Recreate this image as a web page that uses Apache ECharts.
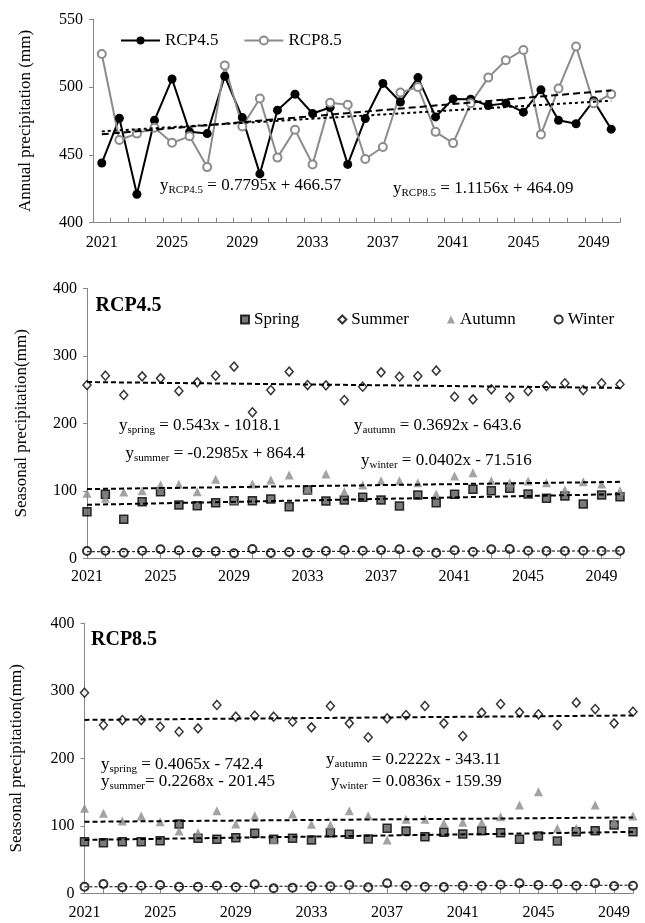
<!DOCTYPE html>
<html>
<head>
<meta charset="utf-8">
<script src="https://cdn.jsdelivr.net/npm/echarts@6/dist/echarts.min.js"></script>
<style>
html,body{margin:0;padding:0;background:#fff;}
#c{width:645px;height:923px;}
</style>
</head>
<body>
<div id="c"></div>
<script>
// ---------- data ----------
const years = ['2021','2022','2023','2024','2025','2026','2027','2028','2029','2030',
               '2031','2032','2033','2034','2035','2036','2037','2038','2039','2040',
               '2041','2042','2043','2044','2045','2046','2047','2048','2049','2050'];

// Annual precipitation (mm)
const annual45 = [444, 477, 421, 475.5, 506, 467, 465.7, 508, 477.5, 436,
                  483, 494.8, 480.5, 485, 443, 476.8, 502.7, 489, 507, 478,
                  491.3, 491, 486.4, 488, 481.5, 498, 475.5, 473, 490, 469];
const annual85 = [524.4, 461, 465.7, 470, 459, 463.7, 441, 516, 471, 491.6,
                  448, 468.6, 443, 488.4, 487, 447, 455.8, 496, 500, 467,
                  458.7, 488, 507, 519.8, 527.4, 465, 499, 530, 488, 494.8];
const trendAnnual45 = [467.35, 489.96];
const trendAnnual85 = [465.21, 497.56];

// Seasonal precipitation RCP4.5 (mm)
const spring45 = [69, 94.8, 57.8, 83.9, 98.7, 79, 78, 82.4, 85.4, 85.4,
                  87.9, 76.5, 101.2, 84.9, 86.4, 90.4, 86.4, 77.5, 93.8, 82.4,
                  94.8, 102.2, 100.2, 103.7, 95.3, 88.9, 92.3, 80.4, 93.8, 91.3];
const summer45 = [256.7, 270.5, 242, 269.6, 266.6, 247.8, 260.7, 270.5, 283.9, 216.3,
                  249.3, 276.5, 256.7, 256.2, 234.5, 254.2, 275.5, 269, 270, 278,
                  239.4, 235.5, 250.4, 238.5, 247.8, 255.3, 259.3, 249.3, 259.3, 257.8];
const autumn45 = [96.3, 88.9, 98.2, 100.2, 108.6, 109.6, 98.7, 117, 86.4, 110,
                  116, 123.4, 102.2, 124.9, 98.7, 108.6, 115, 115, 112, 95.3,
                  121.9, 126.8, 115, 112, 114.5, 112, 101.2, 113.5, 110, 100.2];
const winter45 = [10.8, 11.3, 8.3, 11.3, 13.3, 11.8, 8.8, 10.3, 7.4, 13.8,
                  7.9, 9.3, 8.3, 10.8, 12.3, 11.3, 12.3, 13.3, 9.8, 8.3,
                  11.8, 9.8, 13.3, 13.8, 11.3, 10.8, 10.8, 11.3, 10.8, 11.3];
const trendSpring45 = [79.30, 95.05];
const trendSummer45 = [261.13, 252.47];
const trendAutumn45 = [102.55, 113.26];
const trendWinter45 = [9.73, 10.89];

// Seasonal precipitation RCP8.5 (mm)
const spring85 = [76.5, 75, 76.5, 76.5, 78, 102.7, 81.5, 80, 82.4, 88.9,
                  80, 81.5, 79, 89.8, 87.4, 80.4, 96.3, 92.3, 83.9, 90.4,
                  87.9, 92.8, 89.8, 80, 84.9, 77.5, 91.3, 92.8, 101.2, 91.3];
const summer85 = [297.2, 249.3, 256.7, 256.7, 246.8, 239.4, 244.4, 279, 261.6, 263.1,
                  261.6, 254.2, 245.9, 277.5, 251.8, 231.1, 259.3, 264.1, 277.5, 251.8,
                  233, 267.6, 280.4, 268.1, 265.2, 249.3, 282.4, 273, 251.8, 269];
const autumn85 = [125.9, 118.5, 107.1, 114.5, 106.1, 92.3, 89.8, 122.4, 102.7, 115,
                  79, 117.5, 102.2, 101.2, 122.4, 115, 79, 109.6, 109.6, 103.7,
                  105.2, 105, 113.5, 130.8, 150.5, 96.3, 96.3, 130.8, 106.1, 114.5];
const winter85 = [9.8, 13.8, 8.9, 11.3, 12.3, 9.8, 9.8, 11.3, 9.3, 13.3,
                  7.4, 8.4, 10.3, 10.3, 12.3, 8.9, 14.8, 11.3, 9.8, 9.3,
                  11.3, 11.3, 12.8, 14.8, 12.3, 13.8, 11.3, 14.8, 10.8, 11.3];
const trendSpring85 = [79.14, 90.93];
const trendSummer85 = [256.91, 263.49];
const trendAutumn85 = [105.96, 112.40];
const trendWinter85 = [9.57, 11.99];

const annualTicks = [400, 450, 500, 550];
const seasonalTicks = [0, 100, 200, 300, 400];

// ---------- styling ----------
const serif = '"Liberation Serif", "Times New Roman", serif';
const axisGray = '#868686';
const gray = '#8c8c8c';

function xAxisCfg(idx, boundary, margin) {
  return {
    type: 'category', gridIndex: idx, data: years, boundaryGap: boundary,
    axisLine: { show: true, lineStyle: { color: axisGray, width: 1 } },
    axisTick: { show: true, inside: true, length: 5, interval: 0, lineStyle: { color: axisGray } },
    axisLabel: { interval: 3, color: '#000', fontFamily: serif, fontSize: 16, margin: margin },
    splitLine: { show: false }
  };
}
function yAxisCfg(idx, ticks, name, gap) {
  return {
    type: 'value', gridIndex: idx, min: ticks[0], max: ticks[ticks.length - 1],
    interval: ticks[1] - ticks[0],
    axisLine: { show: true, lineStyle: { color: axisGray, width: 1 } },
    axisTick: { show: true, length: 4, lineStyle: { color: axisGray } },
    axisLabel: { color: '#000', fontFamily: serif, fontSize: 16, margin: 10 },
    splitLine: { show: false },
    name: name, nameLocation: 'middle', nameGap: gap,
    nameTextStyle: { color: '#000', fontFamily: serif, fontSize: 17 }
  };
}
function trend(name, idx, vals, dash, width) {
  return {
    name: name, type: 'line', xAxisIndex: idx, yAxisIndex: idx,
    data: [[years[0], vals[0]], [years[years.length - 1], vals[1]]],
    symbol: 'none', silent: true, z: 5,
    lineStyle: { color: '#000', type: dash, width: width }
  };
}
function scatter(name, idx, data, kind) {
  const base = { name: name, type: 'scatter', xAxisIndex: idx, yAxisIndex: idx, data: data, z: 3 };
  if (kind === 'spring') {
    base.symbol = 'rect'; base.symbolSize = 8;
    base.itemStyle = { color: '#595959', borderColor: '#000', borderWidth: 1.5 };
  } else if (kind === 'summer') {
    base.symbol = 'diamond'; base.symbolSize = [8, 9];
    base.itemStyle = { color: '#fff', borderColor: '#000', borderWidth: 1.5 };
  } else if (kind === 'autumn') {
    base.symbol = 'triangle'; base.symbolSize = 9;
    base.itemStyle = { color: gray };
  } else {
    base.symbol = 'circle'; base.symbolSize = 8;
    base.itemStyle = { color: '#fff', borderColor: '#000', borderWidth: 2 };
  }
  return base;
}
function eq(left, top, main, sub, rest) {
  return {
    type: 'text', left: left, top: top,
    style: {
      text: '{a|' + main + '}{b|' + sub + '}{a|' + rest + '}',
      rich: {
        a: { fontFamily: serif, fontSize: 17, lineHeight: 20, fill: '#000', color: '#000' },
        b: { fontFamily: serif, fontSize: 11, lineHeight: 12, verticalAlign: 'bottom', fill: '#000', color: '#000' }
      }
    }
  };
}

const chart = echarts.init(document.getElementById('c'), null, { renderer: 'canvas' });
chart.setOption({
  backgroundColor: '#fff',
  animation: false,
  grid: [
    { left: 93, right: 25, top: 19.3, height: 203.4 },
    { left: 87, right: 25, top: 288.3, height: 270 },
    { left: 83, right: 12, top: 623.3, height: 270 }
  ],
  xAxis: [xAxisCfg(0, true, 12), xAxisCfg(1, false, 10.5), xAxisCfg(2, false, 11.5)],
  yAxis: [
    yAxisCfg(0, annualTicks, 'Annual precipitation (mm)', 59),
    yAxisCfg(1, seasonalTicks, 'Seasonal precipitation(mm)', 56.5),
    yAxisCfg(2, seasonalTicks, 'Seasonal precipitation(mm)', 59.5)
  ],
  legend: [
    {
      data: ['RCP4.5', 'RCP8.5'], left: 115, top: 27, itemWidth: 39, itemHeight: 10, itemGap: 25,
      textStyle: { fontFamily: serif, fontSize: 17, color: '#000' }
    },
    {
      data: ['Spring', 'Summer', 'Autumn', 'Winter'], left: 235, top: 306, itemWidth: 8, itemHeight: 8, itemGap: 38,
      textStyle: { fontFamily: serif, fontSize: 17, color: '#000' }
    }
  ],
  graphic: [
    { type: 'text', left: 95.5, top: 296, style: { text: 'RCP4.5', font: 'bold 20px "Liberation Serif"', fill: '#000' } },
    { type: 'text', left: 91, top: 630, style: { text: 'RCP8.5', font: 'bold 20px "Liberation Serif"', fill: '#000' } },
    eq(160, 177, 'y', 'RCP4.5', ' = 0.7795x + 466.57'),
    eq(393, 180, 'y', 'RCP8.5', ' = 1.1156x + 464.09'),
    eq(119, 417, 'y', 'spring', ' = 0.543x - 1018.1'),
    eq(125.5, 445, 'y', 'summer', ' = -0.2985x + 864.4'),
    eq(354, 417, 'y', 'autumn', ' = 0.3692x - 643.6'),
    eq(361, 452, 'y', 'winter', ' = 0.0402x - 71.516'),
    eq(101, 756, 'y', 'spring', ' = 0.4065x - 742.4'),
    eq(101, 773, 'y', 'summer', '= 0.2268x - 201.45'),
    eq(326, 751, 'y', 'autumn', ' = 0.2222x - 343.11'),
    eq(331, 773, 'y', 'winter', ' = 0.0836x - 159.39')
  ],
  series: [
    {
      name: 'RCP4.5', type: 'line', xAxisIndex: 0, yAxisIndex: 0, data: annual45,
      symbol: 'circle', symbolSize: 9, z: 3,
      itemStyle: { color: '#000' }, lineStyle: { color: '#000', width: 2 }
    },
    {
      name: 'RCP8.5', type: 'line', xAxisIndex: 0, yAxisIndex: 0, data: annual85,
      symbol: 'emptyCircle', symbolSize: 8, z: 3,
      itemStyle: { color: gray, borderWidth: 2 }, lineStyle: { color: gray, width: 2 }
    },
    trend('t45', 0, trendAnnual45, [3, 3], 2),
    trend('t85', 0, trendAnnual85, [7, 4], 2),

    scatter('Spring', 1, spring45, 'spring'),
    scatter('Summer', 1, summer45, 'summer'),
    scatter('Autumn', 1, autumn45, 'autumn'),
    scatter('Winter', 1, winter45, 'winter'),
    trend('ts45', 1, trendSpring45, [5, 3], 2),
    trend('tu45', 1, trendSummer45, [5, 3], 2),
    trend('ta45', 1, trendAutumn45, [5, 3], 2),
    trend('tw45', 1, trendWinter45, [3, 2], 1),

    scatter('Spring', 2, spring85, 'spring'),
    scatter('Summer', 2, summer85, 'summer'),
    scatter('Autumn', 2, autumn85, 'autumn'),
    scatter('Winter', 2, winter85, 'winter'),
    trend('ts85', 2, trendSpring85, [5, 3], 2),
    trend('tu85', 2, trendSummer85, [5, 3], 2),
    trend('ta85', 2, trendAutumn85, [5, 3], 2),
    trend('tw85', 2, trendWinter85, [3, 2], 1)
  ]
});
</script>
</body>
</html>
